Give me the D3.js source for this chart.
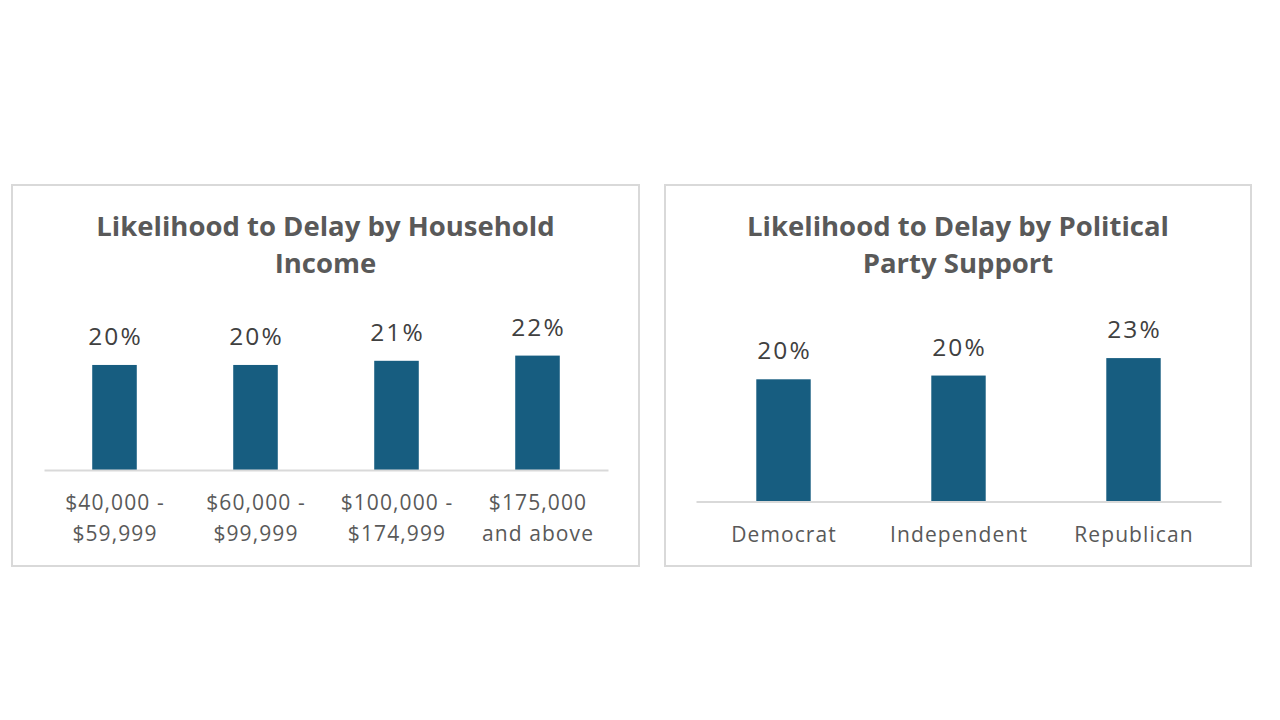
<!DOCTYPE html>
<html>
<head>
<meta charset="utf-8">
<script src="https://cdn.jsdelivr.net/npm/d3@7"></script>
<style>
  html, body { margin: 0; padding: 0; background: #ffffff; }
  svg { display: block; }
  text { font-family: "Open Sans", "Liberation Sans", sans-serif; }
</style>
</head>
<body>
<svg id="chart" width="1280" height="720"></svg>
<script>
// ---- Data ----
const incomeTitle = ["Likelihood to Delay by Household", "Income"];
const incomeCategories = ["$40,000 -\n$59,999", "$60,000 -\n$99,999", "$100,000 -\n$174,999", "$175,000\nand above"];
const incomeValues = [20.2, 20.2, 21.0, 22.0];
const incomeLabels = ["20%", "20%", "21%", "22%"];

const partyTitle = ["Likelihood to Delay by Political", "Party Support"];
const partyCategories = ["Democrat", "Independent", "Republican"];
const partyValues = [19.6, 20.2, 23.0];
const partyLabels = ["20%", "20%", "23%"];

// ---- Layout ----
const svg = d3.select("#chart");
const BAR = "#175d80";
const BORDER = "#d9d9d9";
const FONT = "'Open Sans', 'Liberation Sans', sans-serif";

function drawPanel(opts) {
  const g = svg.append("g");
  g.append("rect")
    .attr("x", opts.box[0]).attr("y", opts.box[1])
    .attr("width", opts.box[2]).attr("height", opts.box[3])
    .attr("fill", "#fff").attr("stroke", BORDER).attr("stroke-width", 2);

  const cx = opts.box[0] + opts.box[2] / 2;
  const title = g.append("text")
    .attr("x", cx).attr("y", opts.titleY)
    .attr("text-anchor", "middle")
    .attr("font-size", 27.5).attr("font-weight", 700)
    .attr("fill", "#595959");
  opts.title.forEach((line, i) => {
    title.append("tspan").attr("x", cx).attr("dy", i === 0 ? 0 : 37).text(line);
  });

  const x = d3.scaleBand()
    .domain(opts.categories)
    .range(opts.xRange)
    .paddingInner(opts.padInner)
    .paddingOuter(opts.padInner / 2);
  const y = d3.scaleLinear()
    .domain([0, 25])
    .range([opts.baseY, opts.baseY - 25 * opts.pxPerPct]);

  const data = opts.categories.map((c, i) => ({ c, v: opts.values[i], label: opts.labels[i] }));

  g.selectAll("rect.bar").data(data).join("rect")
    .attr("class", "bar")
    .attr("x", d => x(d.c))
    .attr("width", x.bandwidth())
    .attr("y", d => y(d.v))
    .attr("height", d => y(0) - y(d.v))
    .attr("fill", BAR);

  g.selectAll("text.val").data(data).join("text")
    .attr("class", "val")
    .attr("x", d => x(d.c) + x.bandwidth() / 2 + 1)
    .attr("y", d => y(d.v) - 20)
    .attr("text-anchor", "middle")
    .attr("font-size", 24.5)
    .attr("letter-spacing", 2)
    .attr("fill", "#404040")
    .text(d => d.label);

  const axis = g.append("g")
    .attr("transform", `translate(0,${opts.baseY})`)
    .call(d3.axisBottom(x).tickSize(0).tickSizeOuter(0));
  axis.select(".domain").attr("stroke", BORDER).attr("stroke-width", 2);
  axis.selectAll(".tick text")
    .attr("font-size", 21)
    .attr("font-family", FONT)
    .attr("letter-spacing", 1.1)
    .attr("fill", "#595959")
    .attr("y", 40).attr("dy", 0)
    .each(function(d) {
      const t = d3.select(this);
      const lines = d.split("\n");
      t.text(null);
      lines.forEach((ln, i) => {
        t.append("tspan").attr("x", 0.5).attr("dy", i === 0 ? 0 : 31).text(ln);
      });
    });
}

drawPanel({
  box: [12, 185, 627, 381],
  title: incomeTitle,
  titleY: 236,
  categories: incomeCategories,
  values: incomeValues,
  labels: incomeLabels,
  xRange: [44, 608],
  padInner: 0.684,
  baseY: 470,
  pxPerPct: 5.2
});

drawPanel({
  box: [665, 185, 586, 381],
  title: partyTitle,
  titleY: 236,
  categories: partyCategories,
  values: partyValues,
  labels: partyLabels,
  xRange: [696, 1221],
  padInner: 0.689,
  baseY: 501.5,
  pxPerPct: 6.235
});
</script>
</body>
</html>
